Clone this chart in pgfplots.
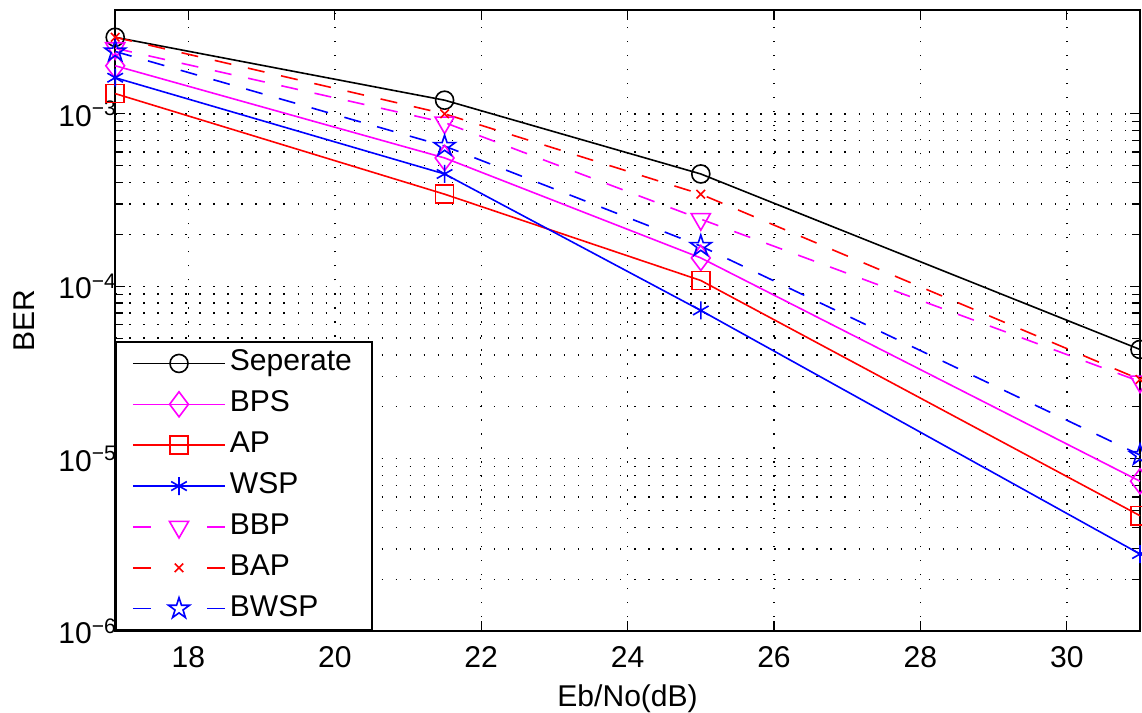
\documentclass[border=0pt]{standalone}
\usepackage{fontspec}
\setmainfont{Liberation Sans}
\usepackage{pgfplots}
\pgfplotsset{compat=1.18}
\definecolor{mblack}{rgb}{0,0,0}
\definecolor{mmag}{rgb}{1,0,1}
\definecolor{mred}{rgb}{1,0,0}
\definecolor{mblue}{rgb}{0,0,1}
\newcommand{\fs}{\fontsize{15pt}{18pt}\selectfont}
\pgfdeclareplotmark{pentagram}{%
  \pgfpathmoveto{\pgfpointpolar{90}{\pgfplotmarksize}}%
  \pgfpathlineto{\pgfpointpolar{126}{0.382\pgfplotmarksize}}%
  \pgfpathlineto{\pgfpointpolar{162}{\pgfplotmarksize}}%
  \pgfpathlineto{\pgfpointpolar{198}{0.382\pgfplotmarksize}}%
  \pgfpathlineto{\pgfpointpolar{234}{\pgfplotmarksize}}%
  \pgfpathlineto{\pgfpointpolar{270}{0.382\pgfplotmarksize}}%
  \pgfpathlineto{\pgfpointpolar{306}{\pgfplotmarksize}}%
  \pgfpathlineto{\pgfpointpolar{342}{0.382\pgfplotmarksize}}%
  \pgfpathlineto{\pgfpointpolar{18}{\pgfplotmarksize}}%
  \pgfpathlineto{\pgfpointpolar{54}{0.382\pgfplotmarksize}}%
  \pgfpathclose\pgfusepathqstroke}
\pgfplotsset{
  solidleg/.style={legend image code/.code={\draw[mark repeat=2,mark phase=2,##1] plot coordinates {(0pt,0pt) (23pt,0pt) (46pt,0pt)};}},
  dashleg/.style={legend image code/.code={\draw[mark repeat=2,mark phase=2,##1,dash pattern=on 9pt off 28pt] plot coordinates {(0pt,0pt) (23pt,0pt) (46pt,0pt)};}},
  sSep/.style={mblack, line width=0.8pt, mark=o, mark size=4.5pt},
  sBPS/.style={mmag, line width=0.8pt, mark=diamond, mark size=6.25pt},
  sAP/.style={mred, line width=0.8pt, mark=square, mark size=4.5pt},
  sWSP/.style={mblue, line width=0.8pt, mark=asterisk, mark size=4.5pt},
  sBBP/.style={mmag, line width=0.8pt, dash pattern=on 8.5pt off 8.5pt, mark=triangle, mark size=5.5pt, mark options={solid, rotate=180}},
  sBAP/.style={mred, line width=0.8pt, dash pattern=on 8.5pt off 8.5pt, mark=x, mark size=3pt, mark options={solid}},
  sBWSP/.style={mblue, line width=0.8pt, dash pattern=on 8.5pt off 8.5pt, mark=pentagram, mark size=5.5pt, mark options={solid}},
}
\begin{document}
\fs
\begin{tikzpicture}[font=\fs]
\begin{axis}[
  at={(0pt,0pt)}, anchor=south west,
  scale only axis, width=511.5pt, height=310pt,
  xmin=17, xmax=31, ymode=log, ymin=1e-6, ymax=4e-3,
  xtick={18,20,...,30},
  ytick={1e-6,1e-5,1e-4,1e-3},
  yticklabels={10\textsuperscript{−6},10\textsuperscript{−5},10\textsuperscript{−4},10\textsuperscript{−3}},
  /pgf/number format/assume math mode=true,
  tick align=inside,
  clip=false,
  axis line style={line width=0.9pt},
  tick style={mblack, line width=0.6pt},
  major tick length=5pt, minor tick length=4pt,
  xmajorgrids, ymajorgrids, yminorgrids,
  major grid style={mblack, line width=0.7pt, dash pattern=on 0.7pt off 6.3pt},
  minor grid style={mblack, line width=0.7pt, dash pattern=on 0.7pt off 6.3pt},
  every tick label/.append style={font=\fs},
  xticklabel style={font=\fs, anchor=center, yshift=-13pt},
  yticklabel style={font=\fs, xshift=6pt},
  xlabel={Eb/No(dB)}, ylabel={BER},
  every axis label/.append style={font=\fs},
  xlabel style={at={(axis description cs:0.5,0)}, anchor=center, yshift=-33.5pt},
  ylabel style={at={(axis description cs:-0.089,0.5)}, anchor=center},
  legend cell align=left,
  legend style={at={(0,0)}, anchor=south west, draw=mblack, line width=0.9pt, fill=white,
    font=\fs, inner xsep=8pt, inner ysep=2pt, row sep=2.9pt,
    nodes={inner sep=2pt, text height=10.5pt, text depth=3pt}},
  legend entries={Seperate,BPS,AP,WSP,BBP,BAP,BWSP},
]
\addlegendimage{sSep, solidleg}
\addlegendimage{sBPS, solidleg}
\addlegendimage{sAP, solidleg}
\addlegendimage{sWSP, solidleg}
\addlegendimage{sBBP, dashleg}
\addlegendimage{sBAP, dashleg}
\addlegendimage{sBWSP, dashleg}
\addplot[sSep, forget plot] coordinates {(17,2.78e-3) (21.5,1.2e-3) (25,4.48e-4) (31,4.3e-5)};
\addplot[sBPS, forget plot] coordinates {(17,1.9e-3) (21.5,5.55e-4) (25,1.46e-4) (31,7.4e-6)};
\addplot[sAP, forget plot] coordinates {(17,1.31e-3) (21.5,3.42e-4) (25,1.08e-4) (31,4.67e-6)};
\addplot[sWSP, forget plot] coordinates {(17,1.62e-3) (21.5,4.48e-4) (25,7.24e-5) (31,2.8e-6)};
\addplot[sBBP, forget plot] coordinates {(17,2.4e-3) (21.5,8.9e-4) (25,2.45e-4) (31,2.8e-5)};
\addplot[sBAP, forget plot] coordinates {(17,2.78e-3) (21.5,1.0e-3) (25,3.42e-4) (31,2.88e-5)};
\addplot[sBWSP, forget plot] coordinates {(17,2.3e-3) (21.5,6.5e-4) (25,1.71e-4) (31,1.05e-5)};
\end{axis}
\pgfresetboundingbox
\useasboundingbox (-57.5pt,-40.5pt) rectangle (512.5pt,315pt);
\end{tikzpicture}
\end{document}
